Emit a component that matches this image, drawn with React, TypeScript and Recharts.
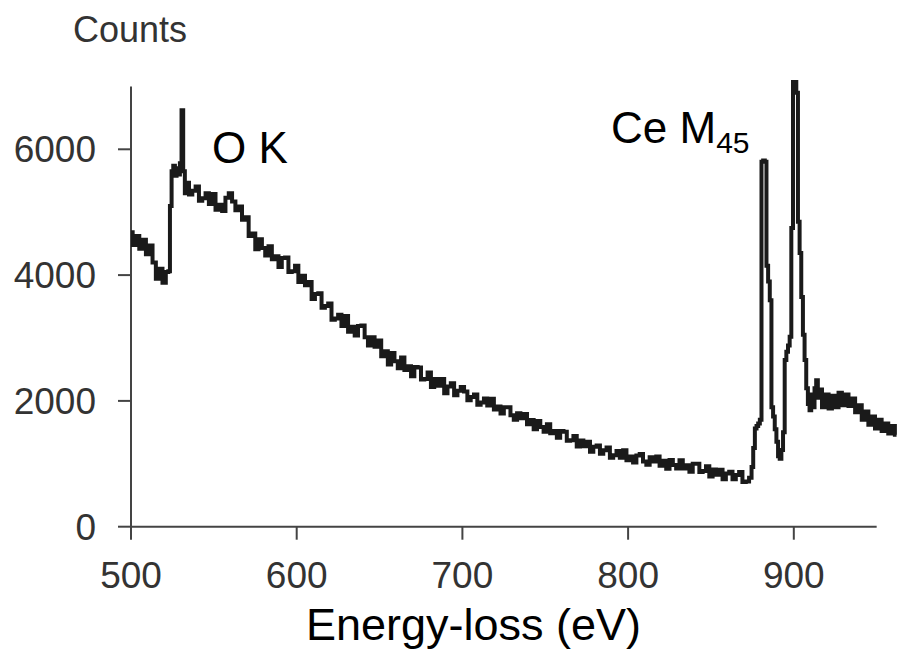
import React from 'react'
import { LineChart, Line, XAxis, YAxis, ReferenceLine } from 'recharts'

// EELS spectrum (energy in eV, counts)
const energyEv = [
  500, 502, 504, 506, 508, 510, 512, 514, 516, 518, 520, 522, 523, 524, 525, 526, 527, 528, 529, 530,
  531, 532, 533, 534, 536, 538, 540, 542, 544, 546, 548, 550, 552, 554, 556, 558, 560, 562, 564, 566,
  568, 570, 572, 574, 576, 578, 580, 582, 584, 586, 588, 590, 592, 594, 596, 598, 600, 602, 604, 606,
  608, 610, 612, 614, 616, 618, 620, 622, 624, 626, 628, 630, 632, 634, 636, 638, 640, 642, 644, 646,
  648, 650, 652, 654, 656, 658, 660, 662, 664, 666, 668, 670, 672, 674, 676, 678, 680, 682, 684, 686,
  688, 690, 692, 694, 696, 698, 700, 702, 704, 706, 708, 710, 712, 714, 716, 718, 720, 722, 724, 726,
  728, 730, 732, 734, 736, 738, 740, 742, 744, 746, 748, 750, 752, 754, 756, 758, 760, 762, 764, 766,
  768, 770, 772, 774, 776, 778, 780, 782, 784, 786, 788, 790, 792, 794, 796, 798, 800, 802, 804, 806,
  808, 810, 812, 814, 816, 818, 820, 822, 824, 826, 828, 830, 832, 834, 836, 838, 840, 842, 844, 846,
  848, 850, 852, 854, 856, 858, 860, 862, 864, 866, 868, 870, 872, 874, 875, 876, 877, 878, 879, 880,
  881, 882, 883, 884, 885, 886, 887, 888, 889, 890, 891, 892, 893, 894, 895, 896, 897, 898, 899, 900,
  901, 902, 903, 904, 905, 906, 907, 908, 909, 910, 911, 912, 913, 914, 915, 916, 918, 920, 922, 924,
  926, 928, 930, 932, 934, 936, 938, 940, 942, 944, 946, 948, 950, 952, 954, 956, 958, 960, 962,
]

const counts = [
  4680, 4480, 4620, 4420, 4560, 4330, 4470, 4200, 3940, 4100, 3880, 4050, 4060, 5100, 5650, 5740, 5580, 5700, 5600, 5780,
  6620, 5650, 5300, 5470, 5280, 5340, 5410, 5180, 5220, 5300, 5130, 5290, 5040, 5120, 5020, 5230, 5300, 5170, 5030, 5090,
  4880, 4920, 4620, 4660, 4410, 4570, 4430, 4310, 4460, 4250, 4300, 4130, 4270, 4280, 4050, 4060, 4150, 3890, 3990, 3840,
  3890, 3620, 3700, 3710, 3480, 3510, 3550, 3290, 3310, 3370, 3190, 3350, 3100, 3180, 3040, 3190, 3200, 3010, 2880, 3010,
  2860, 2960, 2710, 2790, 2580, 2760, 2630, 2520, 2690, 2490, 2550, 2390, 2540, 2530, 2340, 2350, 2450, 2220, 2350, 2240,
  2350, 2120, 2230, 2280, 2090, 2160, 2220, 2150, 2010, 2060, 2100, 1940, 1975, 2040, 1925, 2035, 1865, 1910, 1800, 1900,
  1900, 1770, 1700, 1805, 1725, 1790, 1630, 1695, 1550, 1680, 1585, 1510, 1630, 1485, 1520, 1415, 1520, 1510, 1365, 1375,
  1440, 1275, 1370, 1280, 1350, 1190, 1270, 1290, 1160, 1215, 1260, 1095, 1135, 1205, 1095, 1215, 1055, 1115, 1020, 1130,
  1155, 1035, 985, 1105, 1035, 1115, 970, 1050, 920, 1060, 980, 925, 1055, 925, 975, 875, 1000, 1000, 870, 885,
  960, 800, 910, 825, 905, 755, 845, 875, 755, 820, 870, 710, 720, 780, 950, 1250, 1560, 1600, 1640, 1700,
  5800, 5820, 5800, 4150, 3900, 3600, 1900, 1750, 1550, 1350, 1120, 1080, 1220, 1500, 2650, 2780, 2880, 3020, 4750, 7080,
  7080, 6900, 4850, 4350, 3650, 3050, 2650, 2200, 1950, 1850, 2100, 1900, 2200, 2330, 2050, 2180, 1900, 2100, 1880, 2080,
  1900, 2130, 1930, 2100, 1920, 2040, 1820, 1930, 1700, 1830, 1620, 1750, 1560, 1700, 1520, 1640, 1480, 1600, 1460,
]

const xTicks = [500, 600, 700, 800, 900]
const yTicks = [0, 2000, 4000, 6000]

const spectrum = energyEv.map((e, i) => ({ energy: e, counts: counts[i] }))

const font = 'Liberation Sans, Arial, Helvetica, sans-serif'
const axisColor = '#444'

export default function App() {
  return (
    <div style={{ position: 'absolute', left: 0, top: 0, width: 901, height: 651, background: '#fff' }}>
      <LineChart
        width={901}
        height={651}
        data={spectrum}
        margin={{ top: 80.1, right: 2.8, bottom: 64.3, left: 11 }}
      >
        <XAxis
          type="number"
          dataKey="energy"
          domain={[500, 963]}
          allowDataOverflow
          ticks={xTicks}
          height={60}
          axisLine={false}
          tickLine={{ stroke: axisColor, strokeWidth: 2 }}
          tickSize={13}
          tickMargin={22}
          tick={{ fontSize: 37, fill: '#333', fontFamily: font }}
        />
        <YAxis
          type="number"
          domain={[0, 7100]}
          allowDataOverflow
          ticks={yTicks}
          width={120}
          axisLine={false}
          tickLine={{ stroke: axisColor, strokeWidth: 2 }}
          tickSize={13}
          tickMargin={22}
          tick={{ fontSize: 37, fill: '#333', fontFamily: font }}
        />
        <ReferenceLine
          segment={[{ x: 500, y: 0 }, { x: 500, y: 7000 }]}
          stroke={axisColor}
          strokeWidth={2}
        />
        <ReferenceLine
          segment={[{ x: 500, y: 0 }, { x: 950, y: 0 }]}
          stroke={axisColor}
          strokeWidth={2}
        />
        <Line
          type="step"
          dataKey="counts"
          stroke="#1a1a1a"
          strokeWidth={4}
          dot={false}
          isAnimationActive={false}
        />
      </LineChart>
      <svg
        width={901}
        height={651}
        style={{ position: 'absolute', left: 0, top: 0, pointerEvents: 'none' }}
      >
        <text x={73} y={41.7} fontSize={36} fill="#333" fontFamily={font}>Counts</text>
        <text x={212} y={163} fontSize={44} fill="#000" fontFamily={font}>O K</text>
        <text x={611} y={143} fontSize={44} fill="#000" fontFamily={font}>
          Ce M<tspan fontSize={30} dy={10}>45</tspan>
        </text>
        <text x={306} y={640} fontSize={45} fill="#000" fontFamily={font}>Energy-loss (eV)</text>
      </svg>
    </div>
  )
}
